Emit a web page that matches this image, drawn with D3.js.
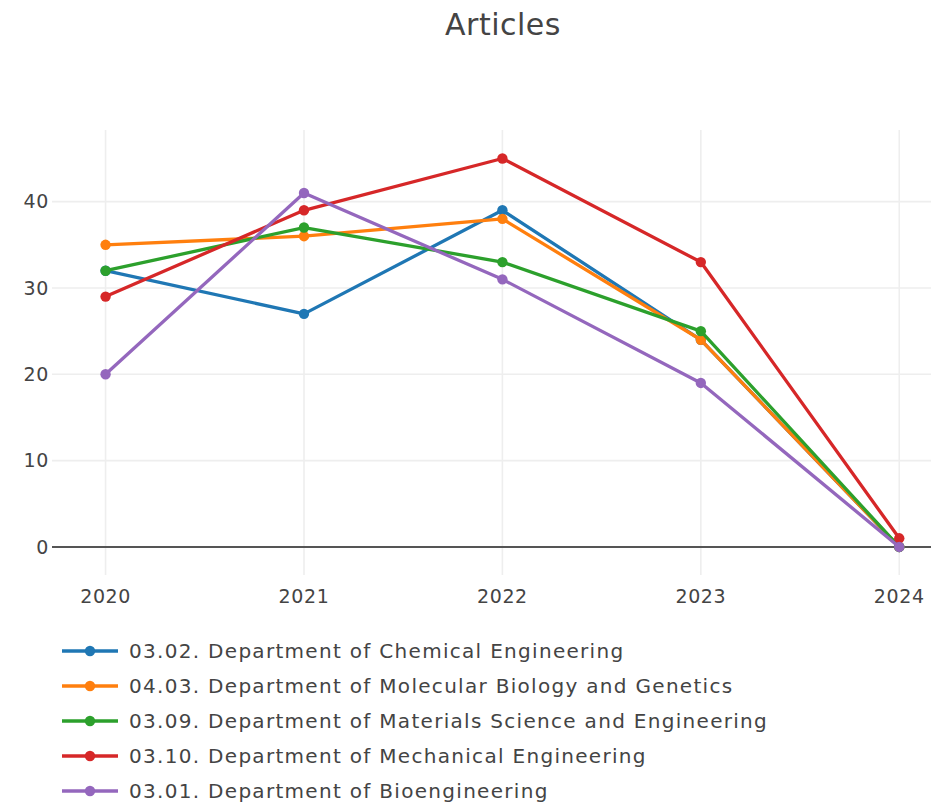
<!DOCTYPE html>
<meta charset="utf-8">
<style>
body { margin: 0; background: #fff; }
text { font-family: "DejaVu Sans", Verdana, sans-serif; fill: #444; }
</style>
<body>
<script src="https://cdn.jsdelivr.net/npm/d3@7"></script>
<script>

// data
const years = [2020, 2021, 2022, 2023, 2024];
const seriesNames = [
  "03.02. Department of Chemical Engineering",
  "04.03. Department of Molecular Biology and Genetics",
  "03.09. Department of Materials Science and Engineering",
  "03.10. Department of Mechanical Engineering",
  "03.01. Department of Bioengineering"
];
const chemical  = [32, 27, 39, 24, 0];
const molecular = [35, 36, 38, 24, 0];
const materials = [32, 37, 33, 25, 0];
const mechanical = [29, 39, 45, 33, 1];
const bio       = [20, 41, 31, 19, 0];
const yTicks = [0, 10, 20, 30, 40];
const colors = ["#1f77b4", "#ff7f0e", "#2ca02c", "#d62728", "#9467bd"];

const allSeries = [chemical, molecular, materials, mechanical, bio];

var width = 931, height = 806;
var plot = {left: 52, right: 931, top: 130, bottom: 575};

var svg = d3.select("body").append("svg")
  .attr("width", width)
  .attr("height", height);

var x = d3.scaleLinear().domain([2019.73, 2024.16]).range([plot.left, plot.right]);
var y = d3.scaleLinear().domain([-3.25, 48.3]).range([plot.bottom, plot.top]);

// grid
svg.append("g").selectAll("line")
  .data(years)
  .enter().append("line")
    .attr("x1", d => x(d)).attr("x2", d => x(d))
    .attr("y1", plot.top).attr("y2", plot.bottom)
    .attr("stroke", "#eee").attr("stroke-width", 1.6);

svg.append("g").selectAll("line")
  .data(yTicks.filter(d => d !== 0))
  .enter().append("line")
    .attr("x1", plot.left).attr("x2", plot.right)
    .attr("y1", d => y(d)).attr("y2", d => y(d))
    .attr("stroke", "#eee").attr("stroke-width", 1.6);

// zero line
svg.append("line")
  .attr("x1", plot.left).attr("x2", plot.right)
  .attr("y1", y(0)).attr("y2", y(0))
  .attr("stroke", "#555").attr("stroke-width", 2);

// tick labels
svg.append("g").selectAll("text")
  .data(yTicks)
  .enter().append("text")
    .attr("x", plot.left - 3)
    .attr("y", d => y(d))
    .attr("dy", "0.36em")
    .attr("text-anchor", "end")
    .attr("font-size", "19px")
    .attr("letter-spacing", "0.6px")
    .text(d => d);

svg.append("g").selectAll("text")
  .data(years)
  .enter().append("text")
    .attr("x", d => x(d))
    .attr("y", 603)
    .attr("text-anchor", "middle")
    .attr("font-size", "19px")
    .attr("letter-spacing", "0.6px")
    .text(d => d);

// lines and markers
var line = d3.line()
  .x((d, i) => x(years[i]))
  .y(d => y(d));

allSeries.forEach(function(vals, k) {
  var g = svg.append("g");
  g.append("path")
    .attr("d", line(vals))
    .attr("fill", "none")
    .attr("stroke", colors[k])
    .attr("stroke-width", 3.3)
    .attr("stroke-linejoin", "round");
  g.selectAll("circle")
    .data(vals)
    .enter().append("circle")
      .attr("cx", (d, i) => x(years[i]))
      .attr("cy", d => y(d))
      .attr("r", 5.2)
      .attr("fill", colors[k]);
});

// title
svg.append("text")
  .attr("x", 503)
  .attr("y", 35)
  .attr("text-anchor", "middle")
  .attr("font-size", "30px")
  .attr("letter-spacing", "0.5px")
  .text("Articles");

// legend
var legend = svg.selectAll(".legend")
  .data(seriesNames)
  .enter().append("g")
  .attr("class", "legend")
  .attr("transform", (d, i) => "translate(0," + (651 + i * 35) + ")");

legend.append("line")
  .attr("x1", 62).attr("x2", 118)
  .attr("stroke", (d, i) => colors[i])
  .attr("stroke-width", 3.3);

legend.append("circle")
  .attr("cx", 90)
  .attr("r", 5.2)
  .attr("fill", (d, i) => colors[i]);

legend.append("text")
  .attr("x", 129)
  .attr("dy", "0.36em")
  .attr("font-size", "20px")
  .attr("letter-spacing", "1.3px")
  .text(d => d);
</script>
